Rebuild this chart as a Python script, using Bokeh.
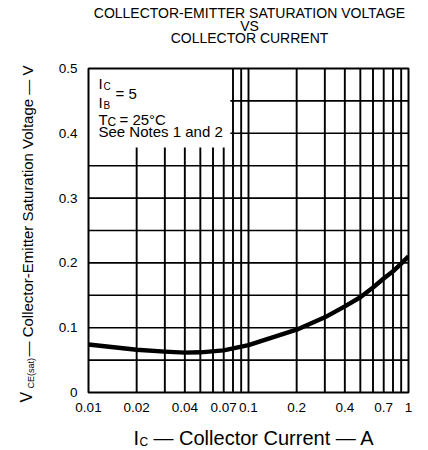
import math
from bokeh.plotting import figure
from bokeh.layouts import row, column
from bokeh.models import Label, FixedTicker, Range1d
from bokeh.embed import file_html
from bokeh.resources import INLINE

# ---- data ----
ic = [0.01, 0.02, 0.03, 0.04, 0.05, 0.07, 0.1, 0.2, 0.3, 0.4, 0.5, 0.6, 0.7, 0.8, 0.9, 1.0]
vce = [0.074, 0.066, 0.063, 0.0615, 0.062, 0.065, 0.073, 0.097, 0.116, 0.133,
       0.147, 0.162, 0.176, 0.187, 0.199, 0.21]
x_ticks = [0.01, 0.02, 0.04, 0.07, 0.1, 0.2, 0.4, 0.7, 1]
x_tick_labels = ["0.01", "0.02", "0.04", "0.07", "0.1", "0.2", "0.4", "0.7", "1"]
y_ticks = [0, 0.1, 0.2, 0.3, 0.4, 0.5]
y_tick_labels = ["0", "0.1", "0.2", "0.3", "0.4", "0.5"]
v_grid = [0.02, 0.03, 0.04, 0.05, 0.06, 0.07, 0.08, 0.09, 0.1,
          0.2, 0.3, 0.4, 0.5, 0.6, 0.7, 0.8, 0.9]
h_grid = [0.05, 0.1, 0.15, 0.2, 0.25, 0.3, 0.35, 0.4, 0.45]
box_x = 0.077   # right edge of the notes area (no grid)
box_y = 0.378   # lower edge of the notes area
x_min, x_max = 0.01, 1.0
y_min, y_max = 0.0, 0.5
title_lines = ["COLLECTOR-EMITTER SATURATION VOLTAGE", "VS", "COLLECTOR CURRENT"]

FONT = "Liberation Sans"
W, H = 428, 450
YL_W = 40          # width of the y-label strip
TT_H = 50          # height of the title strip
XL_H = 30          # height of the x-label strip
MAIN_W = W - YL_W
MAIN_H = H - TT_H - XL_H
FL, FR, FT, FB = 88, 408, 68, 392   # frame box on the page
SHIFT = 0.3        # baseline correction (fraction of font size)


def text_fig(w, h, x0, x1, y0, y1, bl=0, br=0):
    f = figure(width=w, height=h, x_range=Range1d(x0, x1), y_range=Range1d(y1, y0),
               output_backend="svg", toolbar_location=None, title=None,
               x_axis_location=None, y_axis_location=None,
               min_border=0, min_border_left=bl, min_border_right=br,
               min_border_top=0, min_border_bottom=0)
    f.outline_line_color = None
    f.grid.visible = False
    f.background_fill_color = "white"
    f.border_fill_color = "white"
    return f


def put(f, text, x, y, size, align="left", angle=0.0, units="data"):
    f.add_layout(Label(text=text, x=x, y=y, x_units=units, y_units=units,
                       text_font=FONT, text_font_size=f"{size}px", text_color="black",
                       text_align=align, text_baseline="alphabetic", angle=angle))


# ---- main chart ----
p = figure(width=MAIN_W, height=MAIN_H, x_axis_type="log", title=None,
           x_range=Range1d(x_min, x_max), y_range=Range1d(y_min, y_max),
           output_backend="svg", toolbar_location=None,
           min_border_left=FL - YL_W, min_border_right=W - FR,
           min_border_top=FT - TT_H, min_border_bottom=(H - XL_H) - FB)
p.background_fill_color = "white"
p.border_fill_color = "white"
p.outline_line_color = "black"
p.outline_line_width = 2
p.grid.visible = False

vy1 = [box_y if x < box_x else y_max for x in v_grid]
p.segment(x0=v_grid, y0=[y_min] * len(v_grid), x1=v_grid, y1=vy1,
          line_color="black", line_width=1.9)
hx0 = [box_x if y > box_y else x_min for y in h_grid]
p.segment(x0=hx0, y0=h_grid, x1=[x_max] * len(h_grid), y1=h_grid,
          line_color="black", line_width=1.6)

p.line(ic, vce, line_color="black", line_width=4.4, line_join="round")

for ax in (p.xaxis[0], p.yaxis[0]):
    ax.axis_line_color = None
    ax.major_tick_line_color = None
    ax.minor_tick_line_color = None
    ax.major_label_text_font = FONT
    ax.major_label_text_font_size = "13.5px"
    ax.major_label_text_color = "black"
p.xaxis[0].ticker = FixedTicker(ticks=x_ticks)
p.xaxis[0].major_label_overrides = dict(zip(x_ticks, x_tick_labels))
p.xaxis[0].major_label_standoff = 4
p.yaxis[0].ticker = FixedTicker(ticks=y_ticks)
p.yaxis[0].major_label_overrides = dict(zip(y_ticks, y_tick_labels))
p.yaxis[0].major_label_standoff = 5


def note(text, cx, cy, size):
    # page pixel -> frame-relative screen units (origin bottom-left of frame)
    put(p, text, cx - FL, FB - (cy - SHIFT * size), size, units="screen")


note("I", 98, 87, 15)
note("C", 103, 89, 10)
note("=  5", 115, 97, 15)
note("I", 98, 106, 15)
note("B", 103, 108, 10)
note("T", 98, 123, 15)
note("C", 107, 125, 12)
note("=  25\u00b0C", 119, 123, 15)
note("See Notes 1 and 2", 98, 135, 15)

# ---- title strip (coordinates are page pixels) ----
tf = text_fig(MAIN_W, TT_H, FL, FR, 0, TT_H, bl=FL - YL_W, br=W - FR)
for txt, base in zip(title_lines, [17, 30, 42]):
    put(tf, txt, 249, base - SHIFT * 14, 14, align="center")

# ---- x-label strip (coordinates are page pixels) ----
xf = text_fig(MAIN_W, XL_H, FL, FR, H - XL_H, H, bl=FL - YL_W, br=W - FR)


def xput(text, cx, cy, size):
    put(xf, text, cx, cy - SHIFT * size, size)


xput("I", 133, 443, 20)
xput("C", 139, 445, 12)
xput("\u2014 Collector Current \u2014 A", 153, 443, 20)

# ---- y-label strip (coordinates are page pixels) ----
yf = text_fig(YL_W, H, 0, YL_W, 0, H)
up = math.pi / 2


def yput(text, cx, cy, size):
    put(yf, text, cx - SHIFT * size, cy, size, angle=up)


yput("V", 31, 402, 16)
yput("CE(sat)", 33, 388, 9)
yput("\u2014 Collector-Emitter Saturation Voltage \u2014 V", 31, 356, 15)

page = row(yf, column(tf, p, xf, spacing=0), spacing=0)
open("out.html", "w").write(file_html(page, INLINE))
